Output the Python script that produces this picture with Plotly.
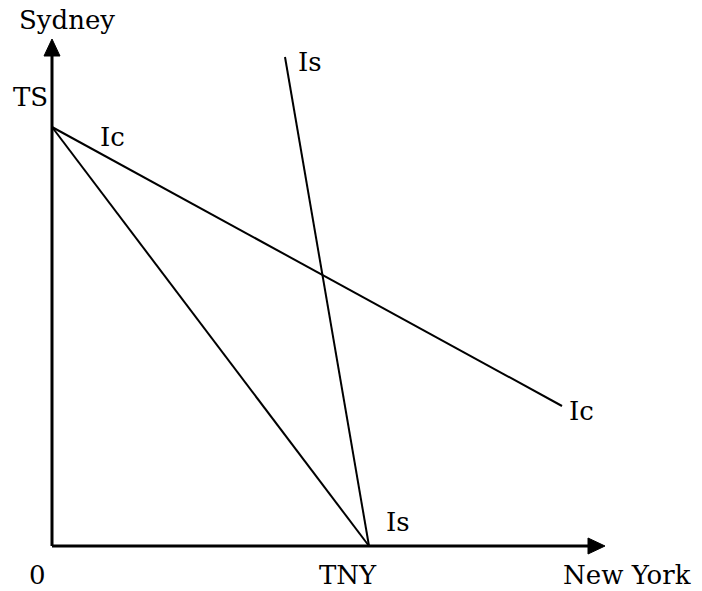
import plotly.graph_objects as go

# Axis extents and key intercepts (in drawing units, origin at 0)
x_axis_end = 553
y_axis_end = 507
TS = 419      # intercept on the Sydney axis
TNY = 317     # intercept on the New York axis

# Curves
ic_x = [0, 510]
ic_y = [TS, 140]
is_x = [233, TNY]
is_y = [489, 0]
budget_x = [0, TNY]
budget_y = [TS, 0]

# Labels: (text, x, y)
labels = [
    ("Sydney", 15, 526),
    ("TS", -22, 449),
    ("Ic", 60, 409),
    ("Is", 258, 484),
    ("Is", 346, 24),
    ("Ic", 529, 135),
    ("0", -15, -29),
    ("TNY", 296, -29),
    ("New York", 575, -29),
]

FONT = dict(family="DejaVu Serif", size=26, color="black")
head_len, head_half = 17, 8

fig = go.Figure()

# Axes
fig.add_trace(go.Scatter(x=[0, x_axis_end - head_len], y=[0, 0], mode="lines",
                         line=dict(color="black", width=3), hoverinfo="skip"))
fig.add_trace(go.Scatter(x=[0, 0], y=[0, y_axis_end - head_len], mode="lines",
                         line=dict(color="black", width=3), hoverinfo="skip"))
# Arrowheads
fig.add_trace(go.Scatter(
    x=[x_axis_end - head_len, x_axis_end, x_axis_end - head_len, x_axis_end - head_len],
    y=[head_half, 0, -head_half, head_half],
    mode="lines", fill="toself", fillcolor="black", line=dict(color="black", width=1),
    hoverinfo="skip"))
fig.add_trace(go.Scatter(
    x=[-head_half, 0, head_half, -head_half],
    y=[y_axis_end - head_len, y_axis_end, y_axis_end - head_len, y_axis_end - head_len],
    mode="lines", fill="toself", fillcolor="black", line=dict(color="black", width=1),
    hoverinfo="skip"))

# Lines
for xs, ys in [(budget_x, budget_y), (ic_x, ic_y), (is_x, is_y)]:
    fig.add_trace(go.Scatter(x=xs, y=ys, mode="lines",
                             line=dict(color="black", width=2), hoverinfo="skip"))

for text, x, y in labels:
    fig.add_annotation(x=x, y=y, text=text, showarrow=False, font=FONT,
                       xanchor="center", yanchor="middle")

fig.update_layout(
    width=702, height=591,
    margin=dict(l=0, r=0, t=0, b=0),
    paper_bgcolor="white", plot_bgcolor="white",
    showlegend=False,
    xaxis=dict(range=[-52, 650], visible=False, fixedrange=True),
    yaxis=dict(range=[-45, 546], visible=False, fixedrange=True),
)

fig.write_html("out.html")
